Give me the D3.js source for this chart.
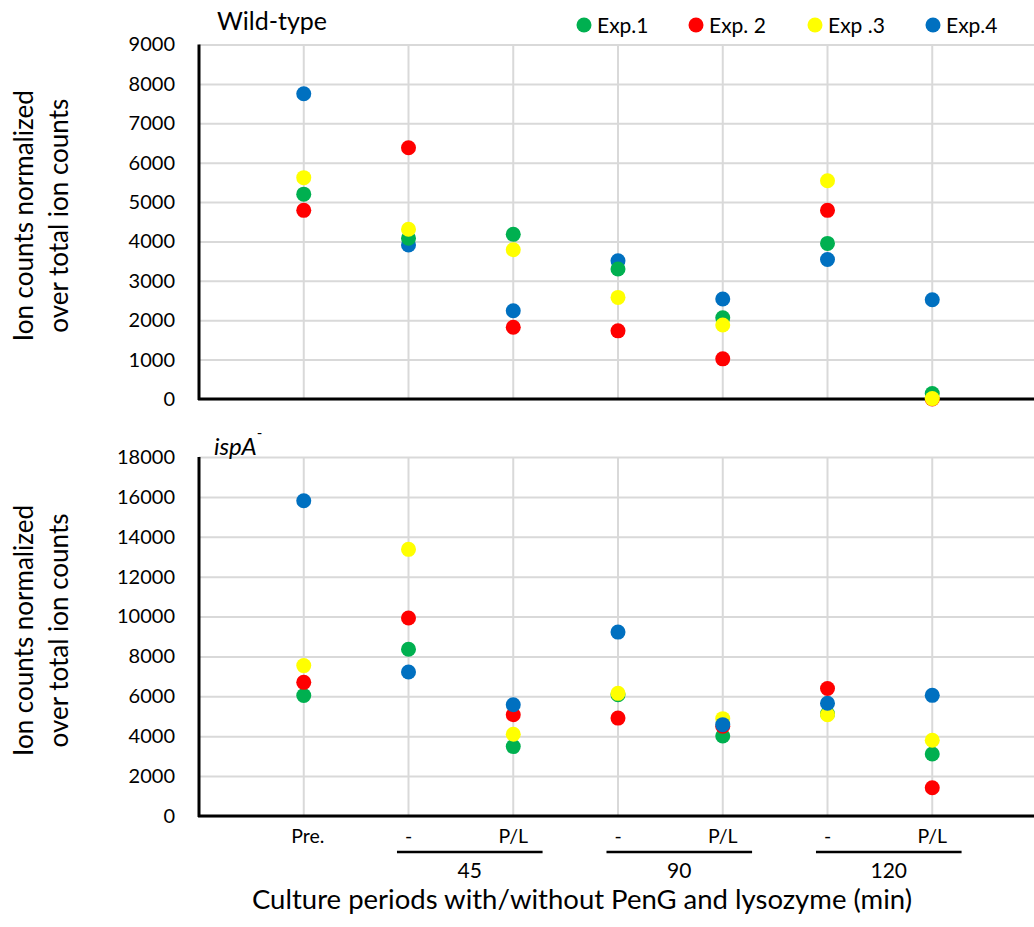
<!DOCTYPE html>
<html>
<head>
<meta charset="utf-8">
<script src="https://cdn.jsdelivr.net/npm/d3@7"></script>
<style>
  body { margin: 0; background: #fff; }
  svg { display: block; font-family: Lato, "Open Sans", sans-serif; }
</style>
</head>
<body>
<svg width="1034" height="927"></svg>
<script>
// categorias del eje x
const categories = ["Pre.", "-", "P/L", "-", "P/L", "-", "P/L"];
const groups = [
  { label: "45", from: 2, to: 3 },
  { label: "90", from: 4, to: 5 },
  { label: "120", from: 6, to: 7 }
];
const seriesNames = ["Exp.1", "Exp. 2", "Exp .3", "Exp.4"];
const seriesColors = ["#00b050", "#ff0000", "#ffff00", "#0070c0"];

// Wild-type
const wtExp1 = [5200, 4080, 4180, 3300, 2060, 3950, 140];
const wtExp2 = [4790, 6380, 1820, 1730, 1020, 4790, 0];
const wtExp3 = [5620, 4310, 3790, 2580, 1880, 5540, 10];
const wtExp4 = [7750, 3910, 2240, 3510, 2540, 3540, 2520];

// ispA-
const ispExp1 = [6040, 8360, 3480, 6080, 4010, 5130, 3110];
const ispExp2 = [6700, 9930, 5080, 4910, 4500, 6390, 1420];
const ispExp3 = [7540, 13370, 4100, 6150, 4880, 5080, 3800];
const ispExp4 = [15810, 7220, 5580, 9220, 4580, 5650, 6050];

const wtTicks = d3.range(0, 9001, 1000);
const ispTicks = d3.range(0, 18001, 2000);

const svg = d3.select("svg");

const xScale = d3.scaleLinear().domain([0, 8]).range([199, 1037]);

function panel(opts) {
  const y = d3.scaleLinear().domain([0, opts.max]).range([opts.bottom, opts.top]);
  const g = svg.append("g");

  // grid vertical
  g.selectAll(".vgrid")
    .data(d3.range(1, 8))
    .join("line")
    .attr("x1", d => xScale(d)).attr("x2", d => xScale(d))
    .attr("y1", opts.top).attr("y2", opts.bottom)
    .attr("stroke", "#d9d9d9").attr("stroke-width", 2);

  // eje y con grid horizontal
  const yAxis = d3.axisLeft(y).tickValues(opts.ticks).tickFormat(d3.format("d"))
    .tickSize(-(1034 - 199)).tickPadding(24);
  g.append("g")
    .attr("transform", `translate(199,0)`)
    .call(yAxis)
    .call(a => a.select(".domain").remove())
    .call(a => a.selectAll(".tick line").attr("stroke", "#d9d9d9").attr("stroke-width", 2))
    .call(a => a.selectAll(".tick text").attr("font-size", 20).attr("fill", "#000")
      .attr("font-family", "Lato, sans-serif"));

  // lineas de ejes
  g.append("line").attr("x1", 199).attr("x2", 199).attr("y1", opts.top).attr("y2", opts.bottom + 1)
    .attr("stroke", "#000").attr("stroke-width", 3);
  g.append("line").attr("x1", 198).attr("x2", 1034).attr("y1", opts.bottom).attr("y2", opts.bottom)
    .attr("stroke", "#000").attr("stroke-width", 3);

  // puntos
  opts.order.forEach(i => {
    g.append("g").selectAll("circle")
      .data(opts.series[i])
      .join("circle")
      .attr("cx", (d, j) => xScale(j + 1))
      .attr("cy", d => y(d))
      .attr("r", 7.5)
      .attr("fill", seriesColors[i]);
  });

  // titulo del eje y
  const cy = (opts.top + opts.bottom) / 2 - 6;
  const lab = g.append("text")
    .attr("transform", `translate(33,${cy}) rotate(-90)`)
    .attr("text-anchor", "middle")
    .attr("font-size", 26)
    .attr("fill", "#000");
  lab.append("tspan").attr("x", 0).attr("dy", 0).text("Ion counts normalized");
  lab.append("tspan").attr("x", 0).attr("dy", 35).text("over total ion counts");
  return g;
}

panel({
  top: 44.5, bottom: 399, max: 9000, ticks: wtTicks,
  series: [wtExp1, wtExp2, wtExp3, wtExp4], order: [1, 3, 0, 2]
});
panel({
  top: 457, bottom: 816, max: 18000, ticks: ispTicks,
  series: [ispExp1, ispExp2, ispExp3, ispExp4], order: [0, 2, 1, 3]
});

// titulos de paneles
svg.append("text").attr("x", 217).attr("y", 30).attr("font-size", 25).text("Wild-type");
const isp = svg.append("text").attr("x", 214).attr("y", 455).attr("font-size", 24).attr("font-style", "italic");
isp.append("tspan").text("ispA");
isp.append("tspan").attr("dy", -17).attr("font-size", 15).attr("font-style", "normal").text("-");

// leyenda
const legendX = [584, 696, 815, 933];
const legend = svg.append("g").selectAll("g")
  .data(seriesNames)
  .join("g")
  .attr("transform", (d, i) => `translate(${legendX[i]},25)`);
legend.append("circle").attr("r", 7.5).attr("fill", (d, i) => seriesColors[i]);
legend.append("text").attr("x", 13).attr("y", 8).attr("font-size", 21).text(d => d);

// etiquetas del eje x
svg.append("g").selectAll("text")
  .data(categories)
  .join("text")
  .attr("x", (d, i) => xScale(i + 1) + (d === "Pre." ? 4 : 0))
  .attr("y", 843)
  .attr("text-anchor", "middle")
  .attr("font-size", 19.5)
  .text(d => d);

const grp = svg.append("g").selectAll("g").data(groups).join("g");
grp.append("line")
  .attr("x1", d => xScale(d.from - 0.11)).attr("x2", d => xScale(d.to + 0.28))
  .attr("y1", 852).attr("y2", 852)
  .attr("stroke", "#000").attr("stroke-width", 2.7);
grp.append("text")
  .attr("x", d => (xScale(d.from - 0.11) + xScale(d.to + 0.28)) / 2)
  .attr("y", 878)
  .attr("text-anchor", "middle")
  .attr("font-size", 21)
  .text(d => d.label);

svg.append("text")
  .attr("x", 582).attr("y", 909)
  .attr("text-anchor", "middle")
  .attr("font-size", 27.5)
  .text("Culture periods with/without PenG and lysozyme (min)");
</script>
</body>
</html>
